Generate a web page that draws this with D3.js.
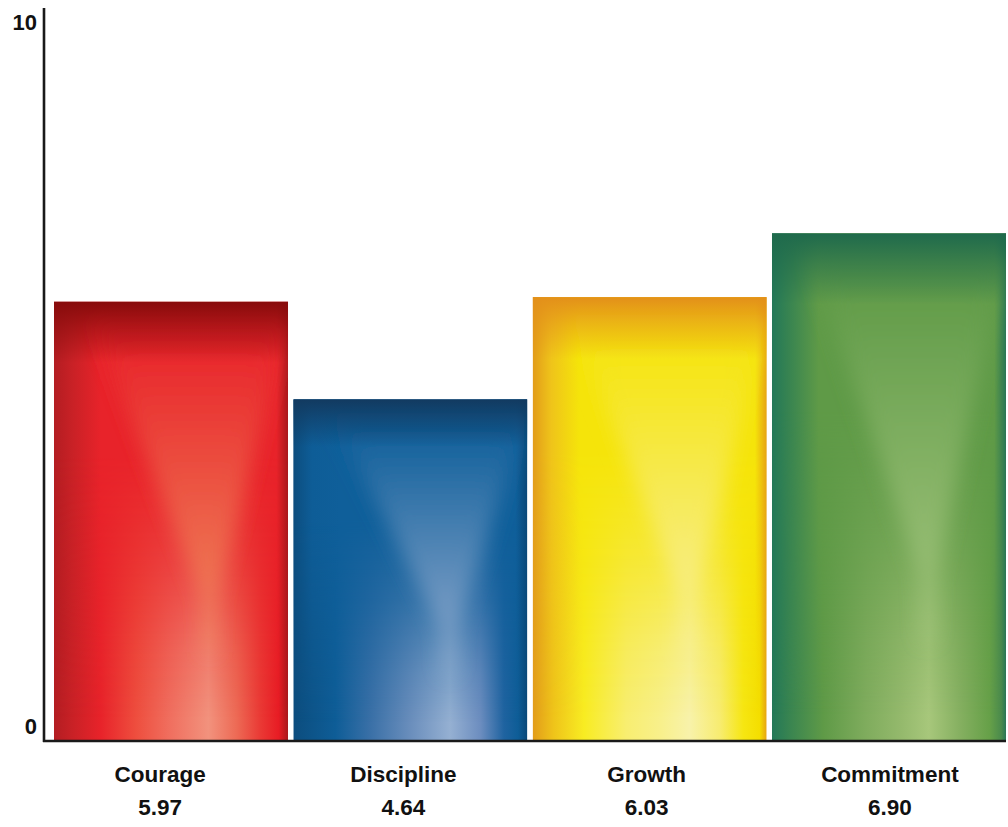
<!DOCTYPE html>
<html>
<head>
<meta charset="utf-8">
<script src="https://cdn.jsdelivr.net/npm/d3@7"></script>
<style>
  html, body { margin: 0; padding: 0; background: #fff; }
  svg { display: block; }
  text { font-family: "Liberation Sans", Arial, sans-serif; font-weight: bold; fill: #111; }
</style>
</head>
<body>
<svg id="chart" width="1008" height="827"></svg>
<script>
// Scores per value
const categories = ["Courage", "Discipline", "Growth", "Commitment"];
const scores = [5.97, 4.64, 6.03, 6.90];
const yTicks = [0, 10];

// Colour scheme per bar: main tone, dark top band, funnel highlight, and the profile across the bar foot
const mainColors  = ["#e8232a", "#0f5f9a", "#f5e40a", "#5f9a47"];
const topColors   = ["#870b0b", "#123a60", "#e3901a", "#1f6a4c"];
const glowColors  = ["#f08c5e", "#94acd0", "#f8f0a2", "#a4c67e"];
const footProfiles = [
  [[0,"#b31d22"],[0.08,"#c92126"],[0.2,"#e8232a"],[0.35,"#ee4e3e"],[0.5,"#f07060"],[0.66,"#f2927d"],[0.78,"#ed6a55"],[0.88,"#ea3a35"],[0.96,"#e81c24"],[1,"#a8181c"]],
  [[0,"#0c4d7e"],[0.18,"#0e5d97"],[0.33,"#3a70a7"],[0.5,"#6a8ebc"],[0.67,"#95b0d2"],[0.8,"#6c8dbf"],[0.9,"#1f63a0"],[0.96,"#0e5d97"],[1,"#0a4878"]],
  [[0,"#e29c1a"],[0.09,"#efc41a"],[0.22,"#f8ec22"],[0.4,"#f8ee70"],[0.55,"#f8f08c"],[0.67,"#f8f2aa"],[0.8,"#f7ec70"],[0.9,"#f6e612"],[0.97,"#f4de00"],[1,"#e6a214"]],
  [[0,"#237858"],[0.08,"#3a8550"],[0.22,"#5f9a47"],[0.4,"#7fac5d"],[0.55,"#94b96c"],[0.67,"#a7c77b"],[0.8,"#86b061"],[0.93,"#66a048"],[0.98,"#4a8a4c"],[1,"#2a7656"]]
];

const svg = d3.select("#chart");
const defs = svg.append("defs");

const x = d3.scaleBand().domain(categories).range([54, 1006]).paddingInner(0.022).paddingOuter(0);
const xLabel = d3.scaleBand().domain(categories).range([38.5, 1011.5]);
const y = d3.scaleLinear().domain([0, 10]).range([740, 5.5]);

// soft edge for the funnel-shaped highlight
defs.append("filter").attr("id", "soften")
  .attr("x", "-60%").attr("y", "-60%").attr("width", "220%").attr("height", "220%")
  .append("feGaussianBlur").attr("stdDeviation", 10);

// the upper body fades out gradually towards the foot
const fadeGrad = defs.append("linearGradient").attr("id", "fade")
  .attr("x1", 0).attr("y1", 0).attr("x2", 0).attr("y2", 1);
[[0, 1], [0.35, 1], [0.6, 0.6], [0.8, 0.2], [0.95, 0]].forEach(([o, a]) =>
  fadeGrad.append("stop").attr("offset", o).attr("stop-color", "#fff").attr("stop-opacity", a));

const data = categories.map((c, i) => ({ c, v: scores[i], i }));

data.forEach(d => {
  const i = d.i;
  const prof = footProfiles[i];

  // profile across the foot of the bar
  const gh = defs.append("linearGradient").attr("id", "foot" + i)
    .attr("x1", 0).attr("y1", 0).attr("x2", 1).attr("y2", 0);
  prof.forEach(([o, c]) => gh.append("stop").attr("offset", o).attr("stop-color", c));

  // profile across the upper body: dark rims, flat main tone between
  const gu = defs.append("linearGradient").attr("id", "upper" + i)
    .attr("x1", 0).attr("y1", 0).attr("x2", 1).attr("y2", 0);
  [[0, prof[0][1]], [0.08, prof[1][1]], [0.2, mainColors[i]], [0.95, mainColors[i]], [1, prof[prof.length - 1][1]]]
    .forEach(([o, c]) => gu.append("stop").attr("offset", o).attr("stop-color", c));

  // funnel highlight, brightening downwards
  const gv = defs.append("linearGradient").attr("id", "funnel" + i)
    .attr("x1", 0).attr("y1", 0).attr("x2", 0).attr("y2", 1);
  [[0, mainColors[i]], [0.06, mainColors[i]], [1, glowColors[i]]]
    .forEach(([o, c]) => gv.append("stop").attr("offset", o).attr("stop-color", c));

  // dark band along the top
  const gt = defs.append("linearGradient").attr("id", "top" + i)
    .attr("x1", 0).attr("y1", 0).attr("x2", 0).attr("y2", 1);
  [[0, 1], [0.06, 0.55], [0.14, 0]].forEach(([o, a]) =>
    gt.append("stop").attr("offset", o).attr("stop-color", topColors[i]).attr("stop-opacity", a));

  const bx = x(d.c), bw = x.bandwidth(), by = y(d.v), bh = y(0) - y(d.v);

  defs.append("mask").attr("id", "upperMask" + i)
    .attr("maskUnits", "userSpaceOnUse")
    .attr("x", bx).attr("y", by).attr("width", bw).attr("height", bh)
    .append("rect").attr("x", bx).attr("y", by).attr("width", bw).attr("height", bh)
    .attr("fill", "url(#fade)");

  defs.append("clipPath").attr("id", "clip" + i)
    .append("rect").attr("x", bx).attr("y", by).attr("width", bw).attr("height", bh);
});

const bars = svg.append("g").selectAll("g").data(data).join("g")
  .attr("clip-path", d => "url(#clip" + d.i + ")");

const barRect = sel => sel
  .attr("x", d => x(d.c)).attr("y", d => y(d.v))
  .attr("width", x.bandwidth()).attr("height", d => y(0) - y(d.v));

bars.append("rect").attr("class", "bar").call(barRect)
  .attr("fill", d => "url(#foot" + d.i + ")");

bars.append("rect").call(barRect)
  .attr("fill", d => "url(#upper" + d.i + ")")
  .attr("mask", d => "url(#upperMask" + d.i + ")");

// funnel: from the top corners down to a point in the lower third, then a narrow tail
bars.append("polygon")
  .attr("points", d => {
    const bx = x(d.c), bw = x.bandwidth(), by = y(d.v), bh = y(0) - y(d.v);
    return [[0.16, 0.04], [1.0, 0.04], [0.69, 0.68], [0.68, 0.8], [0.65, 0.8], [0.64, 0.68]]
      .map(([fx, fy]) => [bx + fx * bw, by + fy * bh].join(",")).join(" ");
  })
  .attr("fill", d => "url(#funnel" + d.i + ")")
  .attr("filter", "url(#soften)");

bars.append("rect").call(barRect)
  .attr("fill", d => "url(#top" + d.i + ")");

// axes
svg.append("line")
  .attr("x1", 44).attr("x2", 44)
  .attr("y1", y(0) + 2).attr("y2", y(10) + 2.5)
  .attr("stroke", "#1a1a1a").attr("stroke-width", 2.6);
svg.append("line")
  .attr("x1", 43).attr("x2", x.range()[1])
  .attr("y1", y(0) + 1).attr("y2", y(0) + 1)
  .attr("stroke", "#1a1a1a").attr("stroke-width", 2.6);

const yAxis = svg.append("g").attr("transform", "translate(37,0)")
  .call(d3.axisLeft(y).tickValues(yTicks).tickSize(0).tickPadding(0).tickFormat(d3.format("d")));
yAxis.select(".domain").remove();
yAxis.selectAll(".tick text")
  .style("font-family", "'Liberation Sans', Arial, sans-serif")
  .style("font-weight", "bold").style("font-size", "22px").attr("fill", "#111")
  .attr("dy", d => d === 10 ? "1.1em" : "-0.28em");

// category names and scores under the bars
const labels = svg.append("g").selectAll("g").data(data).join("g")
  .attr("transform", d => `translate(${xLabel(d.c) + xLabel.bandwidth() / 2},0)`);
labels.append("text").attr("text-anchor", "middle").attr("y", 782)
  .style("font-size", "22.5px").text(d => d.c);
labels.append("text").attr("text-anchor", "middle").attr("y", 815)
  .style("font-size", "22.5px").text(d => d.v.toFixed(2));
</script>
</body>
</html>
